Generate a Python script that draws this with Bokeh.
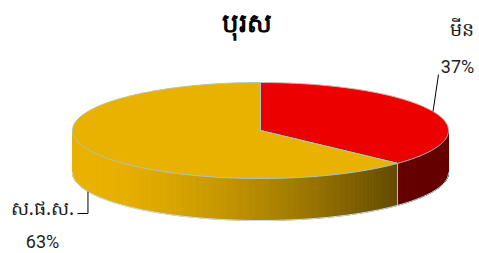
import numpy as np
from bokeh.plotting import figure
from bokeh.models import Range1d
from bokeh.core.properties import value
from bokeh.embed import file_html
from bokeh.resources import INLINE

# ---- data ----
title_text = "បុរស"
categories = ["មីន", "ស.ផ.ស."]
values = [37, 63]
pct_labels = ["37%", "63%"]
top_colors = ["#EC0000", "#E9B100"]

# ---- style / layout ----
W, H = 478, 252
CX, CY, RX, RY, DEPTH = 260.0, 130.0, 188.0, 48.0, 42.0
EDGE = "#A9C6C0"
TXT = "#1E1E1E"
FONT = "Noto Sans"
name_pos = [(461, 28), (42, 207)]
pct_pos = [(457, 66), (42, 241)]
leader_side = ["top", "bottom"]

p = figure(width=W, height=H, x_range=Range1d(0, W), y_range=Range1d(H, 0),
           output_backend="svg", toolbar_location=None, min_border=0,
           x_axis_location=None, y_axis_location=None)
p.grid.visible = False
p.outline_line_color = None
p.background_fill_color = "white"


def pt(t, dz=0.0):
    return CX + RX * np.cos(t), CY - RY * np.sin(t) + dz


def hex2rgb(h):
    h = h.lstrip("#")
    return [int(h[i:i + 2], 16) for i in (0, 2, 4)]


def shade(hexcol, x):
    f = np.clip((x - 100.0) / (395.0 - 100.0), 0, 1) ** 1.5
    k = 1 - 0.57 * f
    r, g, b = hex2rgb(hexcol)
    return "#%02x%02x%02x" % (int(r * k), int(g * k), int(b * k))


total = float(sum(values))
fracs = [v / total for v in values]
starts, ends = [], []
a = np.pi / 2
for f in fracs:
    starts.append(a)
    a = a - f * 2 * np.pi
    ends.append(a)

# ---- side walls (front half only) ----
xs_s, ys_s, cols_s = [], [], []
for i in range(len(values)):
    a0, a1 = starts[i], ends[i]
    for shift in (0.0, -2 * np.pi, 2 * np.pi):
        lo = max(a1, -np.pi + shift)
        hi = min(a0, 0.0 + shift)
        if hi <= lo:
            continue
        n = max(2, int((hi - lo) / 0.01))
        ts = np.linspace(hi, lo, n + 1)
        for k in range(n):
            t0, t1 = ts[k], ts[k + 1]
            x0, y0 = pt(t0)
            x1, y1 = pt(t1)
            xs_s.append([x0, x1, x1, x0])
            ys_s.append([y0, y1, y1 + DEPTH, y0 + DEPTH])
            cols_s.append(shade(top_colors[i], (x0 + x1) / 2))
p.patches(xs_s, ys_s, fill_color=cols_s, line_color=cols_s, line_width=1)

# wall boundary lines between slices in front
for a0 in starts:
    t = (a0 + np.pi) % (2 * np.pi) - np.pi
    if -np.pi < t < 0:
        x, y = pt(t)
        p.line([x, x], [y, y + DEPTH], line_color=EDGE, line_width=1)

# bottom front edge
tb = np.linspace(-np.pi, 0, 200)
bx, by = pt(tb, DEPTH)
p.line(bx, by, line_color="#D2E2E6", line_width=1)

# ---- top faces ----
xs_t, ys_t = [], []
for i in range(len(values)):
    ts = np.linspace(starts[i], ends[i], 200)
    x, y = pt(ts)
    xs_t.append([CX] + list(x))
    ys_t.append([CY] + list(y))
p.patches(xs_t, ys_t, fill_color=top_colors, line_color=EDGE, line_width=1)

# ---- leaders and labels ----
for i in range(len(values)):
    mid = (starts[i] + ends[i]) / 2
    if leader_side[i] == "top":
        ax, ay = pt(mid)
        p.line([ax, 438], [ay, 74], line_color="black", line_width=1)
    else:
        ax, ay = pt(mid, DEPTH)
        p.line([ax, ax, 77], [ay, 213, 213], line_color="black", line_width=1)

p.text(x=[q[0] for q in name_pos], y=[q[1] for q in name_pos], text=categories,
       text_font=value(FONT), text_font_size="19px", text_color=TXT,
       text_align="center", text_baseline="middle")
p.text(x=[q[0] for q in pct_pos], y=[q[1] for q in pct_pos], text=pct_labels,
       text_font=value("Roboto"), text_font_size="18px", text_color=TXT,
       text_align="center", text_baseline="middle")
p.text(x=[246], y=[21], text=[title_text], text_font=value(FONT),
       text_font_size="26px", text_font_style="bold", text_color="black",
       text_align="center", text_baseline="middle")

open("out.html", "w").write(file_html(p, INLINE))
